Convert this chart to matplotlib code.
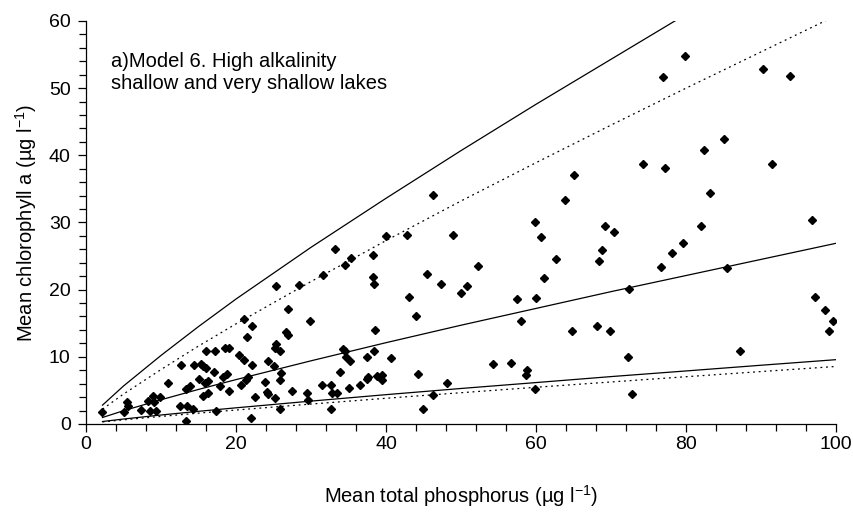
import matplotlib
matplotlib.use("Agg")
import matplotlib.pyplot as plt
from matplotlib.ticker import MultipleLocator

plt.rcParams["font.family"] = ["Liberation Sans", "DejaVu Sans"]
plt.rcParams["mathtext.fontset"] = "custom"
plt.rcParams["mathtext.rm"] = "Liberation Sans"
plt.rcParams["mathtext.it"] = "Liberation Sans:italic"

# lakes: mean total phosphorus (x) vs mean chlorophyll a (y)
tp_values = [
    2.2, 5.0, 5.4, 5.6, 7.3, 8.2, 8.5, 8.9, 9.1, 9.3,
    9.9, 10.9, 12.5, 12.6, 13.3, 13.4, 13.3, 13.8, 14.3, 14.4,
    15.0, 15.3, 15.6, 15.6, 15.9, 16.0, 16.0, 16.2, 16.3, 17.0,
    17.2, 17.3, 17.8, 18.3, 18.5, 18.8, 19.0, 19.0, 20.4, 20.7,
    21.0, 21.0, 21.3, 21.4, 21.6, 22.0, 22.1, 22.1, 22.5, 23.9,
    24.1, 24.3, 24.2, 25.0, 25.2, 25.3, 25.3, 25.9, 25.9, 25.2,
    25.8, 26.0, 26.7, 26.9, 26.9, 27.4, 28.4, 29.4, 29.6, 29.8,
    31.5, 31.6, 32.6, 32.6, 32.8, 33.2, 33.4, 33.9, 34.2, 34.5,
    34.5, 34.7, 35.1, 35.2, 35.3, 36.5, 37.4, 37.4, 37.6, 38.2,
    38.2, 38.4, 38.4, 38.5, 38.8, 39.4, 39.4, 40.0, 40.7, 42.8,
    43.0, 44.0, 44.2, 44.9, 45.4, 46.2, 46.3, 47.3, 48.1, 48.9,
    50.0, 50.8, 52.3, 54.2, 56.7, 57.4, 58.0, 58.6, 58.8, 59.8,
    59.9, 60.0, 60.6, 61.1, 62.6, 63.8, 64.8, 65.0, 68.1, 68.4,
    68.8, 69.2, 69.9, 70.4, 72.3, 72.4, 72.8, 74.3, 76.6, 76.9,
    77.2, 78.1, 79.6, 79.9, 82.0, 82.4, 83.2, 85.0, 85.5, 87.2,
    90.2, 91.4, 93.8, 96.8, 97.2, 98.5, 99.0, 99.6,
]
chla_values = [
    1.8, 1.8, 3.2, 2.6, 2.1, 3.4, 2.0, 4.1, 3.2, 2.0,
    4.0, 6.1, 2.7, 8.8, 0.45, 2.6, 5.2, 5.7, 2.2, 8.8,
    6.65, 8.9, 8.6, 4.1, 6.1, 10.8, 8.3, 4.6, 6.45, 7.8,
    10.8, 1.9, 5.7, 7.05, 11.3, 7.5, 11.3, 4.9, 10.2, 5.8,
    15.6, 9.5, 6.55, 12.9, 7.05, 0.85, 14.6, 8.8, 4.0, 6.3,
    4.7, 4.5, 9.4, 8.6, 11.3, 20.5, 11.9, 10.9, 6.55, 3.9,
    2.2, 7.65, 13.7, 13.25, 17.1, 4.95, 20.7, 4.6, 3.5, 15.4,
    5.8, 22.2, 5.8, 2.2, 4.6, 26.1, 4.65, 7.7, 11.2, 10.9,
    23.7, 9.9, 5.3, 9.3, 24.7, 5.8, 9.9, 6.7, 6.95, 25.2,
    21.9, 20.9, 10.8, 14.0, 7.2, 7.3, 6.55, 28.0, 9.75, 28.1,
    18.85, 16.1, 7.5, 2.2, 22.4, 34.05, 4.25, 20.9, 6.05, 28.1,
    19.45, 20.6, 23.5, 8.9, 9.1, 18.6, 15.3, 7.3, 8.1, 30.0,
    5.2, 18.75, 27.9, 21.8, 24.6, 33.3, 13.8, 37.1, 14.6, 24.2,
    25.9, 29.4, 13.8, 28.6, 10.0, 20.05, 4.4, 38.75, 23.4, 51.7,
    38.1, 25.4, 26.9, 54.8, 29.4, 40.8, 34.35, 42.4, 23.2, 10.9,
    52.9, 38.7, 51.8, 30.3, 18.9, 17.0, 13.8, 15.3,
]

# model lines at these phosphorus values
curve_tp = [2.2, 5, 10, 15, 20, 30, 40, 50, 60, 70, 80, 90, 100]
upper_solid = [2.8, 5.65, 10.2, 14.5, 18.6, 26.3, 33.6, 40.7, 47.6, 54.3, 61.0, 67.5, 74.0]
upper_dotted = [2.2, 4.45, 8.1, 11.6, 14.9, 21.2, 27.3, 33.2, 38.9, 44.5, 50.0, 55.4, 60.8]
middle_solid = [0.96, 1.97, 3.6, 5.14, 6.6, 9.4, 12.1, 14.7, 17.2, 19.7, 22.1, 24.5, 26.9]
lower_solid = [0.36, 0.73, 1.33, 1.88, 2.4, 3.4, 4.36, 5.28, 6.16, 7.05, 7.89, 8.74, 9.57]
lower_dotted = [0.30, 0.61, 1.12, 1.61, 2.07, 2.96, 3.82, 4.65, 5.46, 6.25, 7.03, 7.8, 8.56]

panel_text = "a)Model 6. High alkalinity\nshallow and very shallow lakes"

fig = plt.figure(figsize=(8.54, 5.12), dpi=100)
ax = fig.add_axes([0.1007, 0.172, 0.8783, 0.787])

dots = (0, (1.5, 3.0))
ax.plot(curve_tp, upper_solid, color="black", linewidth=0.9)
ax.plot(curve_tp, upper_dotted, color="black", linewidth=0.9, linestyle=dots)
ax.plot(curve_tp, middle_solid, color="black", linewidth=0.9)
ax.plot(curve_tp, lower_solid, color="black", linewidth=0.9)
ax.plot(curve_tp, lower_dotted, color="black", linewidth=0.9, linestyle=dots)

ax.plot(tp_values, chla_values, linestyle="none", marker="D",
        markersize=4.4, color="black")

ax.set_xlim(0, 100)
ax.set_ylim(0, 60)
ax.xaxis.set_major_locator(MultipleLocator(20))
ax.xaxis.set_minor_locator(MultipleLocator(4))
ax.yaxis.set_major_locator(MultipleLocator(10))
ax.yaxis.set_minor_locator(MultipleLocator(2))

for side in ("top", "right"):
    ax.spines[side].set_visible(False)
for side in ("left", "bottom"):
    ax.spines[side].set_linewidth(0.9)

ax.tick_params(axis="both", which="both", direction="out", width=0.9,
               labelsize=14, colors="black")
ax.tick_params(axis="both", which="major", length=6)
ax.tick_params(axis="both", which="minor", length=5)
ax.tick_params(axis="x", which="major", pad=3)
ax.tick_params(axis="y", which="major", pad=5)

ax.set_xlabel("Mean total phosphorus (\u00b5g l$^{-1}$)", fontsize=14.5, labelpad=21)
ax.set_ylabel("Mean chlorophyll a (\u00b5g l$^{-1}$)", fontsize=14.5, labelpad=7)

ax.text(3.3, 55.45, panel_text, fontsize=14.5, va="top", ha="left",
        linespacing=1.25)

fig.savefig("out.png", dpi=100)
plt.close(fig)
